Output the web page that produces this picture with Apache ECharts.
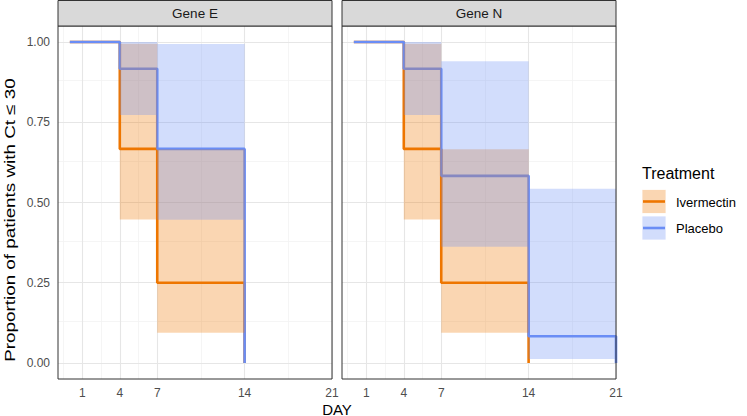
<!DOCTYPE html>
<html>
<head>
<meta charset="utf-8">
<script src="https://cdn.jsdelivr.net/npm/echarts@6/dist/echarts.min.js"></script>
<style>
html,body{margin:0;padding:0;background:#fff;}
#chart{width:747px;height:416px;}
</style>
</head>
<body>
<div id="chart"></div>
<script>
// ---- data ----
const panels = ["Gene E", "Gene N"];
const treatments = ["Ivermectin", "Placebo"];

// Gene E
const geneE_iver_day   = [0, 4, 7, 14];
const geneE_iver_surv  = [1, 0.667, 0.25, 0];
const geneE_iver_lower = [1, 0.447, 0.094];
const geneE_iver_upper = [1, 0.995, 0.666];

const geneE_plac_day   = [0, 4, 7, 14];
const geneE_plac_surv  = [1, 0.917, 0.667, 0];
const geneE_plac_lower = [1, 0.773, 0.446];
const geneE_plac_upper = [1, 1.0, 0.994];

// Gene N
const geneN_iver_day   = [0, 4, 7, 14];
const geneN_iver_surv  = [1, 0.667, 0.25, 0];
const geneN_iver_lower = [1, 0.447, 0.094];
const geneN_iver_upper = [1, 0.995, 0.666];

const geneN_plac_day   = [0, 4, 7, 14, 21];
const geneN_plac_surv  = [1, 0.917, 0.583, 0.083, 0];
const geneN_plac_lower = [1, 0.773, 0.362, 0.0125];
const geneN_plac_upper = [1, 1.0, 0.94, 0.543];

// axis ticks / grid breaks
const xTicks = [1, 4, 7, 14, 21];
const xMinor = [-0.5, 2.5, 5.5, 10.5, 17.5];
const yTicks = [0, 0.25, 0.5, 0.75, 1];
const yMinor = [0.125, 0.375, 0.625, 0.875];

// ---- styling ----
const colIver = '#EE7600';
const colPlac = '#6A8DF5';
const fillIver = 'rgba(238,118,0,0.3)';
const fillPlac = 'rgba(106,141,245,0.3)';
const FONT = 'Liberation Sans, Arial, Helvetica, sans-serif';

const gridDefs = [
  {left: 58, top: 26, width: 274, height: 353},
  {left: 342, top: 26, width: 274, height: 353}
];

const panelData = [
  {iver: [geneE_iver_day, geneE_iver_surv, geneE_iver_lower, geneE_iver_upper],
   plac: [geneE_plac_day, geneE_plac_surv, geneE_plac_lower, geneE_plac_upper]},
  {iver: [geneN_iver_day, geneN_iver_surv, geneN_iver_lower, geneN_iver_upper],
   plac: [geneN_plac_day, geneN_plac_surv, geneN_plac_lower, geneN_plac_upper]}
];

function bandData(d) {
  const [day, , lo, hi] = d;
  const out = [];
  for (let i = 0; i < lo.length; i++) {
    if (hi[i] - lo[i] > 0) out.push([day[i], day[i + 1], lo[i], hi[i]]);
  }
  return out;
}
function stepData(d) {
  return d[0].map((t, i) => [t, d[1][i]]);
}
function bandSeries(d, idx, fill, name) {
  return {
    type: 'custom', name: name, xAxisIndex: idx, yAxisIndex: idx, z: 4, silent: true,
    data: bandData(d),
    encode: {x: [0, 1], y: [2, 3]},
    renderItem: function (params, api) {
      const p0 = api.coord([api.value(0), api.value(3)]);
      const p1 = api.coord([api.value(1), api.value(2)]);
      return {type: 'rect', shape: {x: p0[0], y: p0[1], width: p1[0] - p0[0], height: p1[1] - p0[1]},
              style: {fill: fill, stroke: null, lineWidth: 0}};
    }
  };
}
function lineSeries(d, idx, color, name) {
  return {
    type: 'line', name: name, xAxisIndex: idx, yAxisIndex: idx, z: 3, step: 'end',
    showSymbol: false, symbol: 'none', silent: true,
    itemStyle: {color: color},
    emphasis: {disabled: true},
    data: stepData(d),
    lineStyle: {color: color, width: 2.6}
  };
}
function gridSeries(idx) {
  const items = [];
  xMinor.forEach(v => items.push({xAxis: v, lineStyle: {color: '#f3f3f3', width: 0.8, type: 'solid'}}));
  yMinor.forEach(v => items.push({yAxis: v, lineStyle: {color: '#f3f3f3', width: 0.8, type: 'solid'}}));
  xTicks.forEach(v => items.push({xAxis: v, lineStyle: {color: '#e6e6e6', width: 1.1, type: 'solid'}}));
  yTicks.forEach(v => items.push({yAxis: v, lineStyle: {color: '#e6e6e6', width: 1.1, type: 'solid'}}));
  return {
    type: 'line', xAxisIndex: idx, yAxisIndex: idx, z: 1, data: [], silent: true,
    markLine: {z: 1, silent: true, symbol: ['none', 'none'], label: {show: false}, animation: false, data: items}
  };
}

const series = [];
for (let p = 0; p < 2; p++) {
  series.push(gridSeries(p));
  series.push(lineSeries(panelData[p].iver, p, colIver, treatments[0]));
  series.push(lineSeries(panelData[p].plac, p, colPlac, treatments[1]));
  series.push(bandSeries(panelData[p].iver, p, fillIver, treatments[0]));
  series.push(bandSeries(panelData[p].plac, p, fillPlac, treatments[1]));
}

const xAxes = gridDefs.map((g, i) => ({
  type: 'value', gridIndex: i, min: -0.95, max: 21,
  axisLine: {show: false}, splitLine: {show: false},
  axisTick: {show: false, customValues: xTicks},
  axisLabel: {customValues: xTicks, color: '#4d4d4d', fontSize: 12, fontFamily: FONT, margin: 8,
              formatter: v => String(v)}
}));
const yAxes = gridDefs.map((g, i) => ({
  type: 'value', gridIndex: i, min: -0.05, max: 1.05,
  axisLine: {show: false}, splitLine: {show: false},
  axisTick: {show: false, customValues: yTicks},
  axisLabel: {show: i === 0, customValues: yTicks, color: '#4d4d4d', fontSize: 12, fontFamily: FONT, margin: 8,
              formatter: v => v.toFixed(2)}
}));

const graphics = [];
gridDefs.forEach((g, i) => {
  graphics.push({type: 'rect', z: 100, silent: true,
    shape: {x: g.left, y: g.top, width: g.width, height: g.height},
    style: {fill: 'none', stroke: '#333333', lineWidth: 1}});
  graphics.push({type: 'rect', z: 100, silent: true,
    shape: {x: g.left, y: 0.5, width: g.width, height: g.top - 0.5},
    style: {fill: '#d9d9d9', stroke: '#333333', lineWidth: 1}});
  graphics.push({type: 'text', z: 101, silent: true, x: g.left + g.width / 2, y: 13.5,
    style: {text: panels[i], fontSize: 13.5, fontFamily: FONT, fill: '#1a1a1a', align: 'center', verticalAlign: 'middle'}});
});
// axis titles
graphics.push({type: 'text', z: 101, silent: true, x: 337, y: 409,
  style: {text: 'DAY', fontSize: 15, fontFamily: FONT, fill: '#000', align: 'center', verticalAlign: 'middle'}});
graphics.push({type: 'text', z: 101, silent: true, x: 10, y: 220, rotation: Math.PI / 2, scaleX: 1.3,
  style: {text: 'Proportion of patients with Ct \u2264 30', fontSize: 14.5, fontFamily: FONT, fill: '#000',
          align: 'center', verticalAlign: 'middle'}});
// legend
graphics.push({type: 'text', z: 101, silent: true, x: 642, y: 173,
  style: {text: 'Treatment', fontSize: 16, fontFamily: FONT, fill: '#000', align: 'left', verticalAlign: 'middle'}});
const keyY = [189.5, 216];
const keyFill = [fillIver, fillPlac];
const keyLine = [colIver, colPlac];
treatments.forEach((t, i) => {
  graphics.push({type: 'rect', z: 101, silent: true, shape: {x: 642, y: keyY[i], width: 24, height: 24},
    style: {fill: keyFill[i], stroke: '#fff', lineWidth: 0.8}});
  graphics.push({type: 'line', z: 102, silent: true,
    shape: {x1: 643, y1: keyY[i] + 12, x2: 665, y2: keyY[i] + 12},
    style: {stroke: keyLine[i], lineWidth: 2.6}});
  graphics.push({type: 'text', z: 101, silent: true, x: 676, y: keyY[i] + 12.5,
    style: {text: t, fontSize: 13, fontFamily: FONT, fill: '#000', align: 'left', verticalAlign: 'middle'}});
});

const chart = echarts.init(document.getElementById('chart'), null, {renderer: 'svg'});
chart.setOption({
  animation: false,
  backgroundColor: '#ffffff',
  grid: gridDefs,
  xAxis: xAxes,
  yAxis: yAxes,
  series: series,
  graphic: graphics
});
</script>
</body>
</html>
